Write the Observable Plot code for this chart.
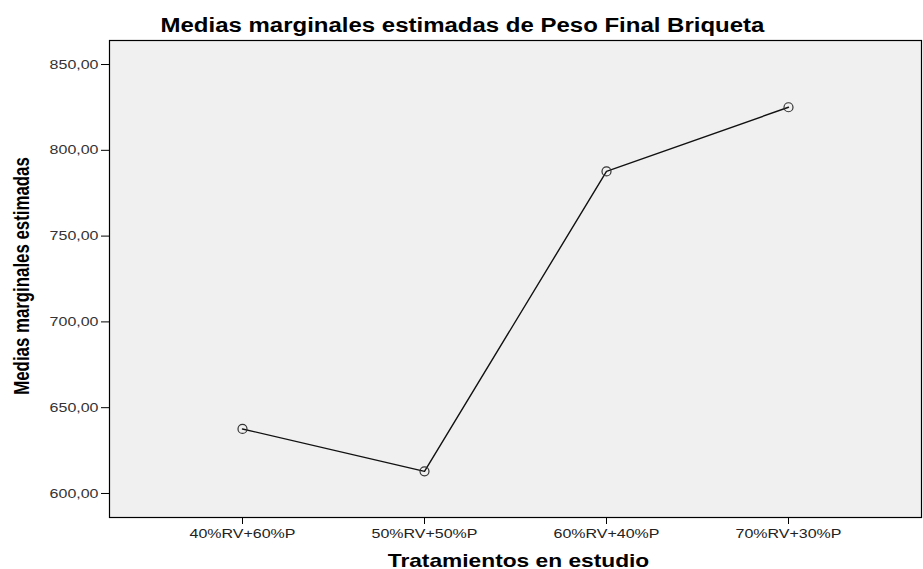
<!DOCTYPE html>
<html>
<head>
<meta charset="utf-8">
<script src="https://cdn.jsdelivr.net/npm/d3@7"></script>
<script src="https://cdn.jsdelivr.net/npm/@observablehq/plot@0.6"></script>
<style>
  html, body { margin: 0; padding: 0; background: #fff; }
  #title { width: 923px; height: 38px; text-align: center; box-sizing: border-box; padding-top: 15.5px; padding-left: 2px; }
  #title span { display: inline-block; font: bold 19.5px/1 "Liberation Sans", Arial, sans-serif; color: #000; transform: scaleX(1.23); transform-origin: center; white-space: nowrap; }
  svg { display: block; }
</style>
</head>
<body>
<div id="title"><span>Medias marginales estimadas de Peso Final Briqueta</span></div>
<div id="chart"></div>
<script>
const categories = ["40%RV+60%P", "50%RV+50%P", "60%RV+40%P", "70%RV+30%P"];
const values = [637.6, 612.9, 787.7, 825.1];
const yTicks = [600, 650, 700, 750, 800, 850];
const xTitle = "Tratamientos en estudio";
const yTitle = "Medias marginales estimadas";

const data = categories.map((c, i) => ({cat: c, val: values[i]}));
const fmt = d => d.toFixed(2).replace(".", ",");

const chart = Plot.plot({
  width: 923,
  height: 531,
  marginTop: 2,
  marginBottom: 52,
  marginLeft: 109,
  marginRight: 2,
  style: {fontFamily: "Liberation Sans, Arial, sans-serif", fontSize: "13px", color: "#333", background: "#fff", overflow: "visible"},
  x: {type: "point", domain: categories, padding: 0.72, label: null},
  y: {domain: [586, 864], label: null},
  marks: [
    Plot.frame({fill: "#f0f0f0", stroke: null}),
    Plot.axisY({ticks: yTicks, tickFormat: fmt, tickSize: 8, tickPadding: 3, fontSize: 13, color: "#333", stroke: "#000"}),
    Plot.axisX({tickSize: 7, tickPadding: 4, fontSize: 13, color: "#222", stroke: "#000"}),
    Plot.line(data, {x: "cat", y: "val", stroke: "#111", strokeWidth: 1.4}),
    Plot.dot(data, {x: "cat", y: "val", r: 4.5, stroke: "#333", strokeWidth: 1.2, fill: "none"}),
    Plot.frame({stroke: "#000", strokeWidth: 1.2}),
    Plot.text([xTitle], {frameAnchor: "bottom", dx: 3, dy: 43.6, text: d => d, fontSize: 18.5, fontWeight: "bold", fill: "#000", fontFamily: "Liberation Sans, Arial, sans-serif", textAnchor: "middle", lineAnchor: "middle"}),
    Plot.text([yTitle], {frameAnchor: "left", dx: -88, dy: -3, rotate: -90, text: d => d, fontSize: 22, fontWeight: "bold", fill: "#000", fontFamily: "Liberation Sans, Arial, sans-serif", textAnchor: "middle", lineAnchor: "middle"})
  ]
});
// emulate the horizontally stretched rendering of the original
d3.select(chart).selectAll("text").each(function () {
  const t = this.getAttribute("transform");
  if (!t) return;
  const isY = this.textContent === yTitle;
  this.setAttribute("transform", t + (isY ? " scale(0.765,1)" : " scale(1.23,1)"));
});
document.getElementById("chart").appendChild(chart);
</script>
</body>
</html>
